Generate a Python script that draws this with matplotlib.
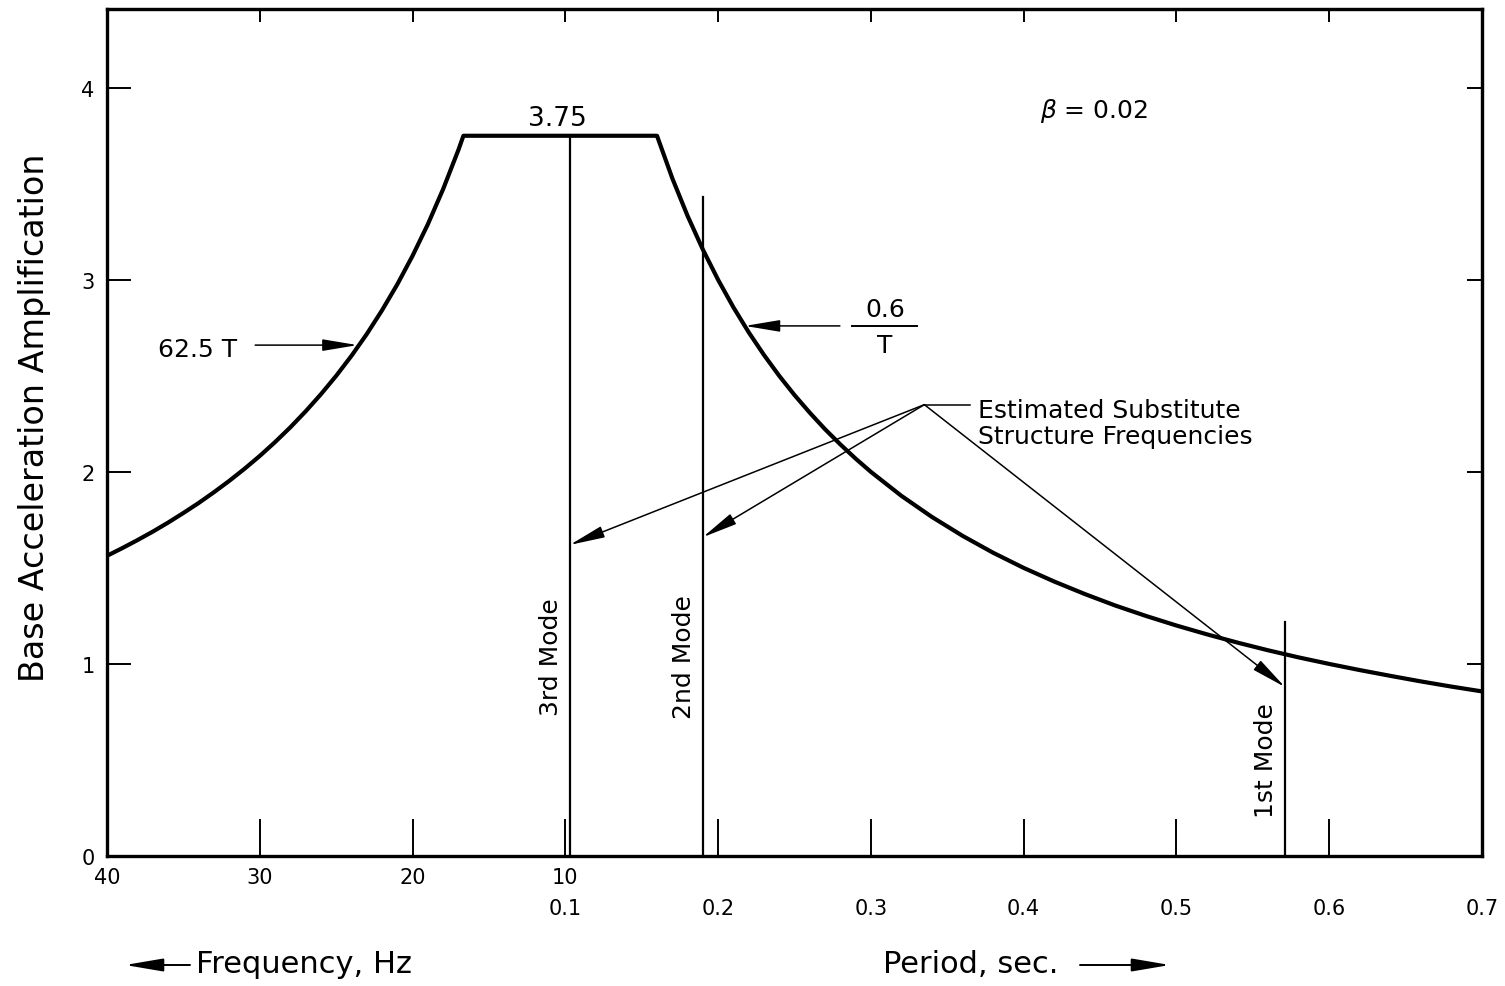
import matplotlib
matplotlib.use('Agg')
import matplotlib.pyplot as plt
from matplotlib.patches import FancyArrowPatch

# spectrum: frequency branch (Hz) and period branch (s)
freqHz = [40, 39, 38, 37, 36, 35, 34, 33, 32, 31, 30, 29, 28, 27, 26, 25,
          24, 23, 22, 21, 20, 19, 18, 17, 16.67]
ampFreq = [1.563, 1.603, 1.645, 1.689, 1.736, 1.786, 1.838, 1.894, 1.953, 2.016, 2.083,
           2.155, 2.232, 2.315, 2.404, 2.500, 2.604, 2.717, 2.841, 2.976, 3.125, 3.289,
           3.472, 3.676, 3.75]
periodSec = [0.16, 0.17, 0.18, 0.19, 0.20, 0.21, 0.22, 0.23, 0.24, 0.25, 0.26, 0.27, 0.28,
             0.29, 0.30, 0.32, 0.34, 0.36, 0.38, 0.40, 0.42, 0.44, 0.46, 0.48, 0.50,
             0.52, 0.54, 0.56, 0.58, 0.60, 0.62, 0.64, 0.66, 0.68, 0.70]
ampPeriod = [3.75, 3.529, 3.333, 3.158, 3.000, 2.857, 2.727, 2.609, 2.500, 2.400, 2.308,
             2.222, 2.143, 2.069, 2.000, 1.875, 1.765, 1.667, 1.579, 1.500, 1.429, 1.364,
             1.304, 1.250, 1.200, 1.154, 1.111, 1.071, 1.034, 1.000, 0.968, 0.938, 0.909,
             0.882, 0.857]

modeNames = ['1st Mode', '2nd Mode', '3rd Mode']
modePeriod = [0.571, 0.190, 0.103]
modeTop = [1.22, 3.43, 3.75]
modeArrowTip = [0.88, 1.66, 1.62]
estimatePeriod = 0.335
estimateAmp = 2.35

freqTicks = [40, 30, 20, 10]
periodTicks = [0.1, 0.2, 0.3, 0.4, 0.5, 0.6, 0.7]


def FreqToX(f):
    return (40 - f) / 10.0


def PeriodToX(t):
    return t * 10.0 + 2


plt.rcParams['font.family'] = ['DejaVu Sans']
fig = plt.figure(figsize=(15.05, 9.87), dpi=100)
ax = fig.add_axes([107 / 1505, 1 - 857 / 987, (1482 - 107) / 1505, (857 - 10) / 987])

curveX = [FreqToX(f) for f in freqHz] + [PeriodToX(t) for t in periodSec]
curveY = ampFreq + ampPeriod
ax.plot(curveX, curveY, color='black', lw=3.0, solid_capstyle='butt', solid_joinstyle='round')

arrowStyle = dict(arrowstyle='-|>,head_length=1.2,head_width=0.2', color='black', lw=1.1,
                  mutation_scale=18, shrinkA=0, shrinkB=0)

srcX = PeriodToX(estimatePeriod)
for name, t, top, tip in zip(modeNames, modePeriod, modeTop, modeArrowTip):
    mx = PeriodToX(t)
    ax.plot([mx, mx], [0, top], color='black', lw=1.6)
    ax.annotate('', xy=(mx, tip), xytext=(srcX, estimateAmp), arrowprops=arrowStyle)
    ax.text(mx - 0.125, 1.04 if name != '1st Mode' else 0.5, name, rotation=90,
            ha='center', va='center', fontsize=18)

# leader line to the label
ax.plot([srcX, PeriodToX(0.3648)], [estimateAmp, estimateAmp], color='black', lw=1.1)
ax.text(PeriodToX(0.370), 2.255, 'Estimated Substitute\nStructure Frequencies',
        ha='left', va='center', fontsize=18, linespacing=1.12)

# 62.5 T label
ax.annotate('', xy=(FreqToX(23.6), 2.66), xytext=(FreqToX(30.3), 2.66), arrowprops=arrowStyle)
ax.text(FreqToX(34.1), 2.64, '62.5 T', ha='center', va='center', fontsize=18)

# 0.6 / T label
ax.annotate('', xy=(PeriodToX(0.2175), 2.76), xytext=(PeriodToX(0.2797), 2.76),
            arrowprops=arrowStyle)
ax.text(PeriodToX(0.3092), 2.85, '0.6', ha='center', va='center', fontsize=18)
ax.plot([PeriodToX(0.2876), PeriodToX(0.3301)], [2.76, 2.76], color='black', lw=1.4)
ax.text(PeriodToX(0.3092), 2.66, 'T', ha='center', va='center', fontsize=18)

ax.text(FreqToX(10.55), 3.84, '3.75', ha='center', va='center', fontsize=19)
ax.text(PeriodToX(0.4106), 3.885, r'$\beta$ = 0.02', ha='left', va='center', fontsize=18)

ax.set_xlim(0, 9)
ax.set_ylim(0, 4.41)

tickPos = [FreqToX(f) for f in freqTicks] + [PeriodToX(t) for t in periodTicks[1:]]
tickLabels = ['40', '30', '20', '10\n0.1'] + ['\n' + str(t) for t in periodTicks[1:]]
ax.set_xticks(tickPos)
ax.set_xticklabels(tickLabels, fontsize=15, linespacing=1.65)
ax.tick_params(axis='x', direction='in', length=27, width=1.4, pad=8)
ax.set_yticks([0, 1, 2, 3, 4])
ax.set_yticklabels(['0', '1', '2', '3', '4'], fontsize=15)
ax.tick_params(axis='y', direction='in', length=17, width=1.4, pad=9)

topAx = ax.secondary_xaxis('top')
topAx.set_xticks(tickPos[1:-1])
topAx.tick_params(direction='in', length=9, width=1.4, labeltop=False)
topAx.spines['top'].set_linewidth(2.2)
rightAx = ax.secondary_yaxis('right')
rightAx.set_yticks([1, 2, 3, 4])
rightAx.tick_params(direction='in', length=11, width=1.4, labelright=False)
rightAx.spines['right'].set_linewidth(2.2)

for side in ['left', 'bottom', 'top', 'right']:
    ax.spines[side].set_linewidth(2.4)

fig.text(35 / 1505, 1 - 418 / 987, 'Base Acceleration Amplification', rotation=90,
         ha='center', va='center', fontsize=24)

fig.text(196 / 1505, 1 - 965 / 987, 'Frequency, Hz', ha='left', va='center', fontsize=22)
fig.text(883 / 1505, 1 - 965 / 987, 'Period, sec.', ha='left', va='center', fontsize=22)
for x0, x1 in [(190, 125), (1080, 1170)]:
    fig.patches.append(FancyArrowPatch(
        (x0 / 1505, 1 - 966 / 987), (x1 / 1505, 1 - 966 / 987), transform=fig.transFigure,
        arrowstyle='-|>,head_length=1.3,head_width=0.22', mutation_scale=18, color='black',
        lw=1.4, shrinkA=0, shrinkB=0))

fig.savefig('out.png', dpi=100, facecolor='white')
